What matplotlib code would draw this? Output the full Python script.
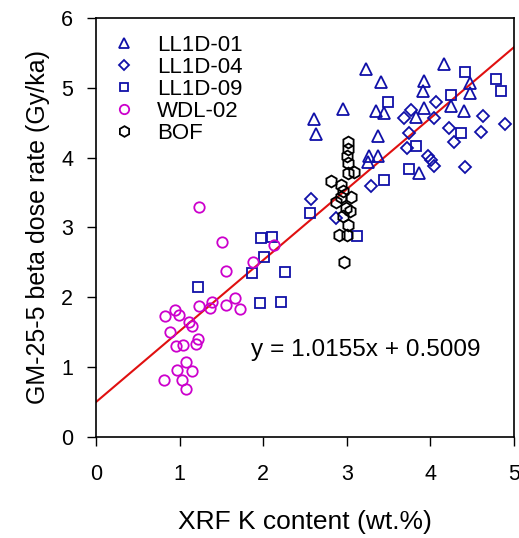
import matplotlib
matplotlib.use('Agg')
import matplotlib.pyplot as plt
import numpy as np

plt.rcParams['font.family'] = ['Liberation Sans', 'DejaVu Sans']

# LL1D-01 (triangles)
ll01_k = [3.23, 3.41, 4.17, 3.93, 3.91, 4.47, 4.48, 2.95, 3.35, 3.45, 3.93, 4.25,
          4.40, 2.61, 2.63, 3.37, 3.83, 3.27, 3.37, 3.25, 3.87]
ll01_b = [5.27, 5.08, 5.34, 5.09, 4.95, 4.93, 5.07, 4.70, 4.67, 4.64, 4.71, 4.74,
          4.67, 4.55, 4.34, 4.31, 4.58, 4.02, 4.02, 3.94, 3.78]

# LL1D-04 (diamonds)
ll04_k = [3.68, 3.77, 4.07, 4.05, 3.75, 4.23, 4.29, 4.63, 4.61, 4.90, 3.72, 3.97,
          4.01, 4.05, 4.41, 3.29, 2.57, 2.87]
ll04_b = [4.57, 4.68, 4.79, 4.57, 4.35, 4.42, 4.23, 4.59, 4.37, 4.48, 4.14, 4.03,
          3.97, 3.88, 3.86, 3.60, 3.41, 3.14]

# LL1D-09 (squares)
ll09_k = [3.49, 4.42, 4.79, 4.85, 4.25, 4.37, 3.83, 3.75, 3.45, 2.56, 3.12, 1.97,
          2.11, 2.01, 1.87, 2.26, 1.96, 2.21, 1.22]
ll09_b = [4.80, 5.23, 5.12, 4.95, 4.90, 4.35, 4.16, 3.83, 3.68, 3.21, 2.88, 2.85,
          2.87, 2.58, 2.35, 2.36, 1.92, 1.94, 2.15]

# WDL-02 (circles)
wdl_k = [1.23, 1.51, 1.55, 1.88, 2.13, 1.23, 1.39, 1.36, 1.56, 1.66, 1.72, 0.82,
         0.94, 0.99, 1.11, 1.15, 0.88, 1.22, 1.20, 0.96, 1.04, 1.08, 0.97, 1.15,
         1.03, 0.81, 1.08]
wdl_b = [3.29, 2.79, 2.38, 2.51, 2.75, 1.87, 1.94, 1.84, 1.89, 1.99, 1.83, 1.73,
         1.82, 1.75, 1.65, 1.59, 1.51, 1.41, 1.33, 1.30, 1.32, 1.07, 0.96, 0.94,
         0.82, 0.82, 0.69]

# BOF (hexagons)
bof_k = [3.01, 3.01, 3.00, 3.09, 3.01, 2.81, 2.93, 2.93, 3.05, 2.87, 2.99, 2.95,
         3.01, 2.91, 3.00, 2.97, 3.02, 2.96, 3.04]
bof_b = [4.23, 4.12, 4.02, 3.80, 3.78, 3.67, 3.61, 3.44, 3.44, 3.37, 3.28, 3.16,
         3.04, 2.89, 2.89, 2.51, 3.92, 3.52, 3.23]

slope = 1.0155
intercept = 0.5009

blue = '#1010a8'
fig = plt.figure(figsize=(5.19, 5.38), dpi=100)
ax = fig.add_axes([0.185, 0.1877, 0.805, 0.779])

fx = np.array([0, 5])
ax.plot(fx, slope * fx + intercept, color='#e01010', lw=1.5, zorder=1)

ax.plot(ll01_k, ll01_b, '^', ms=8.5, mfc='none', mec=blue, mew=1.3, label='LL1D-01')
ax.plot(ll04_k, ll04_b, 'D', ms=6.2, mfc='none', mec=blue, mew=1.3, label='LL1D-04')
ax.plot(ll09_k, ll09_b, 's', ms=7, mfc='none', mec=blue, mew=1.3, label='LL1D-09')
ax.plot(wdl_k, wdl_b, 'o', ms=7.5, mfc='none', mec='#cc00cc', mew=1.3, label='WDL-02')
ax.plot(bof_k, bof_b, 'h', ms=8.5, mfc='none', mec='black', mew=1.3, label='BOF')

ax.set_xlim(0, 5)
ax.set_ylim(0, 6)
ax.set_xticks(range(6))
ax.set_yticks(range(7))
ax.tick_params(direction='out', length=6.5, width=1, labelsize=15.5)
ax.tick_params(axis='x', pad=13)
ax.tick_params(axis='y', pad=10)
for s in ax.spines.values():
    s.set_linewidth(1.2)

ax.set_xlabel('XRF K content (wt.%)', fontsize=19, labelpad=18)
ax.set_ylabel('GM-25-5 beta dose rate (Gy/ka)', fontsize=18, labelpad=8)

ax.text(3.23, 1.25, f'y = {slope}x + {intercept}', fontsize=17.6, ha='center', va='center')

ax.legend(loc='upper left', frameon=False, fontsize=16, handletextpad=1.0,
          handlelength=1.0, labelspacing=0.05, borderaxespad=0, markerscale=0.9,
          bbox_to_anchor=(0.019, 0.981))

fig.savefig('out.png', dpi=100)
